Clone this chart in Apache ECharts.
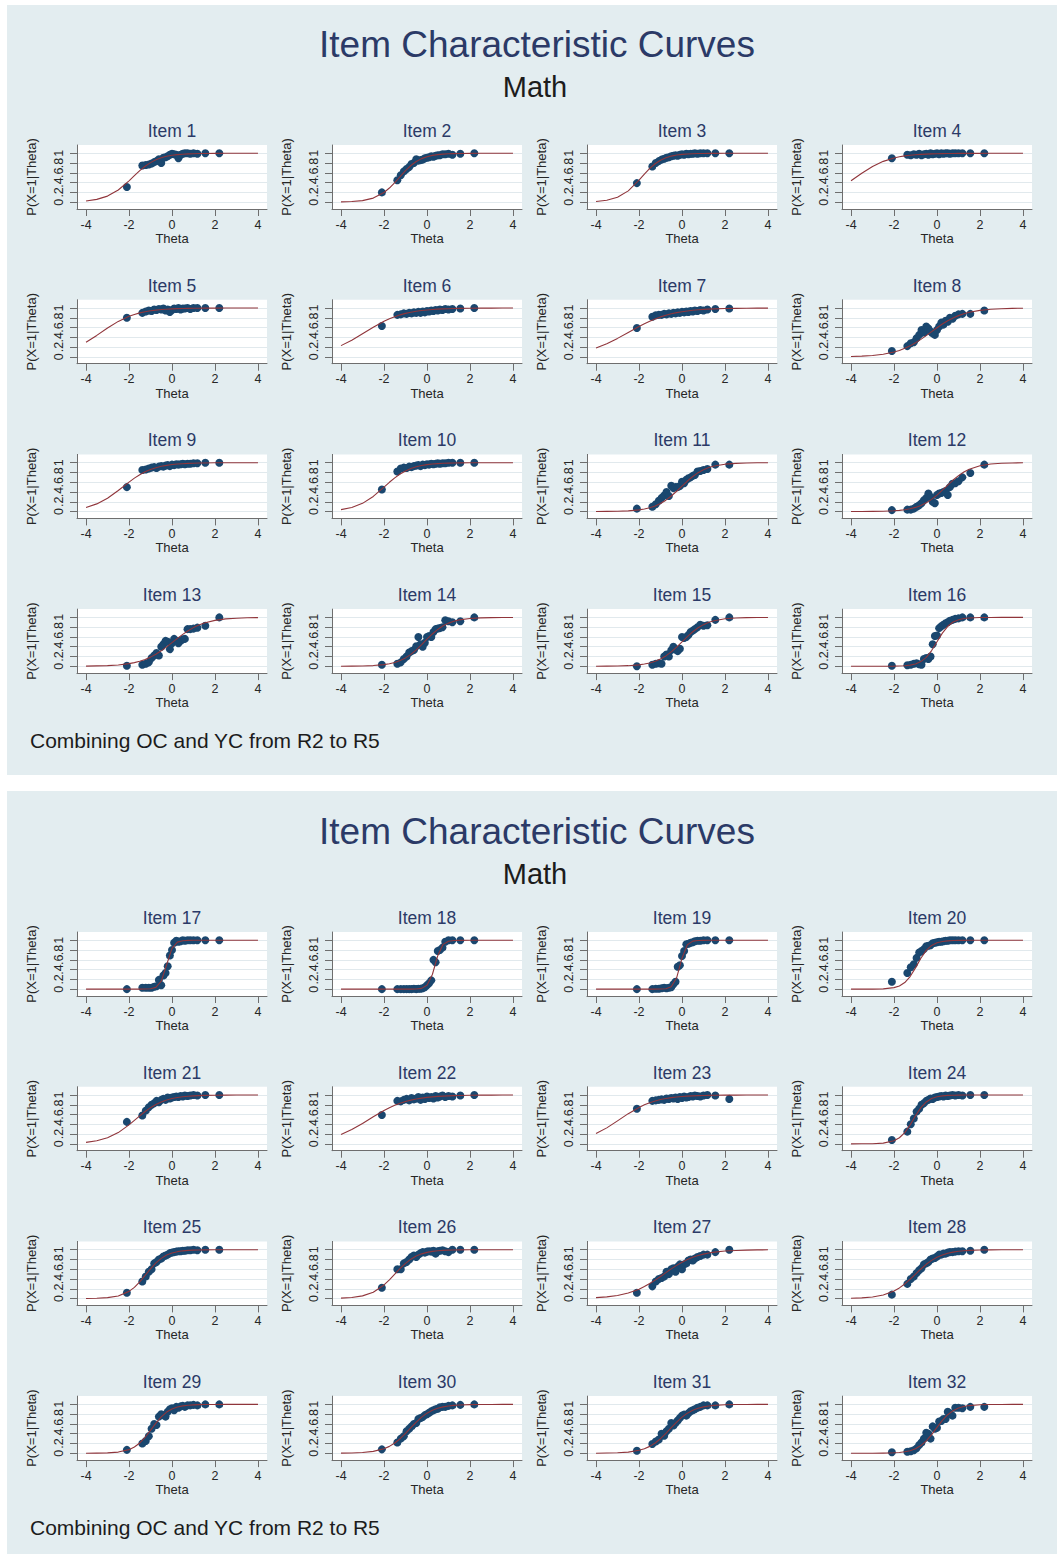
<!DOCTYPE html>
<html>
<head>
<meta charset="utf-8">
<title>Item Characteristic Curves - Math</title>
<script src="https://cdn.jsdelivr.net/npm/echarts@6/dist/echarts.min.js"></script>
<style>
  html, body { margin: 0; padding: 0; background: #ffffff; }
  #chart { width: 1057px; height: 1554px; }
</style>
</head>
<body>
<div id="chart"></div>
<script>
// ---- data -------------------------------------------------------------
const PANEL_TITLE = 'Item Characteristic Curves';
const PANEL_SUBTITLE = 'Math';
const PANEL_NOTE = 'Combining OC and YC from R2 to R5';
const X_NAME = 'Theta';
const Y_NAME = 'P(X=1|Theta)';
const X_TICKS = [-4, -2, 0, 2, 4];
const Y_TICKS = [0, 0.2, 0.4, 0.6, 0.8, 1];
const Y_TICK_LABELS = ['0', '.2', '.4', '.6', '.8', '1'];

// ability levels of the observed score groups
const OBS_THETA = [-2.1, -1.38, -1.22, -1.08, -0.95, -0.83, -0.72, -0.61, -0.5, -0.4, -0.3, -0.2, -0.1,
  0.0, 0.1, 0.2, 0.3, 0.4, 0.5, 0.6, 0.72, 0.85, 1.0, 1.18, 1.55, 2.2];

// observed proportion correct per item (one row per item, same order as OBS_THETA)
const OBSERVED_P = [
  [0.31,0.75,0.76,0.77,0.79,0.82,0.84,0.88,0.80,0.91,0.92,0.94,0.97,0.99,0.98,0.97,0.90,0.97,0.99,1.0,1.0,0.99,1.0,0.99,1.0,1.0],
  [0.20,0.45,0.55,0.63,0.68,0.72,0.78,0.80,0.88,0.85,0.86,0.87,0.90,0.91,0.92,0.94,0.93,0.95,0.96,0.96,0.98,0.98,0.99,0.97,0.99,1.0],
  [0.39,0.73,0.80,0.84,0.87,0.89,0.91,0.92,0.94,0.95,0.96,0.95,0.97,0.98,0.97,0.99,0.98,0.99,0.99,1.0,0.99,1.0,1.0,1.0,1.0,1.0],
  [0.90,0.97,0.96,0.98,0.97,0.99,0.96,0.98,0.99,0.97,1.0,0.98,0.99,1.0,0.98,1.0,0.99,1.0,1.0,0.99,1.0,1.0,1.0,1.0,1.0,1.0],
  [0.80,0.90,0.93,0.95,0.94,0.97,0.96,0.98,0.97,0.99,0.95,0.97,0.92,0.96,0.99,0.98,1.0,0.97,0.99,0.99,1.0,0.98,1.0,1.0,1.0,1.0],
  [0.63,0.86,0.87,0.89,0.88,0.90,0.89,0.91,0.90,0.92,0.90,0.93,0.91,0.94,0.93,0.95,0.94,0.96,0.95,0.97,0.96,0.98,0.97,0.98,0.99,1.0],
  [0.59,0.82,0.85,0.86,0.86,0.88,0.87,0.89,0.88,0.90,0.89,0.91,0.90,0.92,0.91,0.93,0.92,0.94,0.93,0.95,0.94,0.96,0.95,0.97,0.98,0.99],
  [0.12,0.22,0.28,0.30,0.38,0.45,0.55,0.50,0.62,0.58,0.52,0.48,0.45,0.55,0.62,0.70,0.66,0.74,0.72,0.80,0.78,0.84,0.87,0.88,0.88,0.95],
  [0.50,0.85,0.86,0.88,0.90,0.91,0.89,0.92,0.93,0.92,0.94,0.95,0.93,0.96,0.95,0.97,0.96,0.97,0.98,0.97,0.98,0.98,0.99,0.99,1.0,1.0],
  [0.45,0.82,0.88,0.90,0.89,0.92,0.91,0.93,0.94,0.95,0.93,0.96,0.95,0.97,0.96,0.98,0.97,0.98,0.99,0.98,0.99,0.99,1.0,1.0,1.0,1.0],
  [0.06,0.10,0.15,0.22,0.28,0.33,0.40,0.32,0.53,0.48,0.50,0.50,0.52,0.61,0.58,0.65,0.68,0.70,0.73,0.75,0.82,0.83,0.85,0.87,0.96,0.96],
  [0.03,0.04,0.04,0.06,0.10,0.13,0.17,0.23,0.28,0.37,0.30,0.20,0.17,0.34,0.37,0.38,0.40,0.42,0.34,0.50,0.57,0.58,0.62,0.70,0.79,0.96],
  [0.01,0.03,0.05,0.08,0.17,0.22,0.27,0.22,0.40,0.45,0.52,0.50,0.35,0.47,0.56,0.52,0.47,0.52,0.55,0.56,0.76,0.76,0.77,0.79,0.83,1.0],
  [0.03,0.05,0.08,0.15,0.20,0.28,0.31,0.33,0.41,0.60,0.45,0.40,0.48,0.60,0.62,0.60,0.70,0.76,0.77,0.78,0.80,0.94,0.92,0.90,0.92,1.0],
  [0.00,0.03,0.05,0.06,0.05,0.20,0.24,0.20,0.33,0.40,0.34,0.31,0.36,0.60,0.58,0.60,0.64,0.70,0.73,0.76,0.80,0.85,0.83,0.84,0.95,1.0],
  [0.01,0.02,0.03,0.05,0.06,0.04,0.03,0.15,0.17,0.15,0.20,0.45,0.62,0.63,0.78,0.82,0.85,0.88,0.90,0.93,0.95,0.97,0.98,1.0,1.0,1.0],
  [0.00,0.03,0.03,0.03,0.03,0.05,0.06,0.19,0.08,0.28,0.33,0.47,0.69,0.80,0.95,0.99,0.97,0.98,1.0,0.99,1.0,1.0,1.0,1.0,1.0,1.0],
  [0.00,0.00,0.00,0.00,0.00,0.00,0.00,0.01,0.00,0.01,0.01,0.02,0.04,0.08,0.12,0.18,0.60,0.55,0.78,0.80,0.85,0.97,1.0,1.0,1.0,1.0],
  [0.00,0.00,0.01,0.01,0.02,0.03,0.02,0.03,0.04,0.10,0.15,0.46,0.49,0.68,0.78,0.92,0.93,0.95,0.96,0.98,0.99,0.99,1.0,1.0,1.0,1.0],
  [0.15,0.33,0.45,0.51,0.64,0.75,0.78,0.82,0.88,0.89,0.90,0.94,0.95,0.96,0.97,0.97,0.98,0.99,0.99,1.0,1.0,1.0,1.0,1.0,1.0,1.0],
  [0.45,0.58,0.68,0.75,0.80,0.83,0.88,0.85,0.90,0.92,0.90,0.95,0.93,0.95,0.96,0.97,0.96,0.98,0.97,0.99,0.98,0.99,1.0,0.99,1.0,1.0],
  [0.59,0.88,0.87,0.90,0.92,0.89,0.94,0.91,0.93,0.96,0.90,0.95,0.92,0.97,0.94,0.96,0.93,0.98,0.95,0.97,0.99,0.96,0.98,0.97,0.99,1.0],
  [0.72,0.88,0.89,0.90,0.91,0.90,0.93,0.92,0.94,0.93,0.95,0.92,0.96,0.94,0.97,0.95,0.96,0.98,0.97,0.99,0.98,0.97,0.99,1.0,0.99,0.92],
  [0.08,0.25,0.40,0.52,0.66,0.72,0.80,0.83,0.88,0.90,0.93,0.92,0.95,0.96,0.97,0.98,0.97,0.99,0.98,0.99,1.0,0.99,1.0,0.99,1.0,1.0],
  [0.12,0.35,0.45,0.55,0.60,0.72,0.75,0.80,0.82,0.86,0.88,0.90,0.93,0.94,0.95,0.96,0.97,0.97,0.98,0.98,0.99,0.99,1.0,0.99,1.0,1.0],
  [0.22,0.60,0.60,0.72,0.75,0.80,0.85,0.88,0.85,0.90,0.93,0.95,0.94,0.96,0.97,0.96,0.98,0.92,0.97,0.98,0.99,0.97,0.95,1.0,1.0,1.0],
  [0.12,0.25,0.35,0.40,0.42,0.45,0.55,0.50,0.60,0.62,0.55,0.65,0.70,0.60,0.70,0.72,0.78,0.80,0.78,0.82,0.85,0.87,0.90,0.90,0.95,1.0],
  [0.08,0.30,0.40,0.45,0.52,0.58,0.62,0.70,0.72,0.75,0.80,0.82,0.83,0.86,0.90,0.90,0.92,0.92,0.94,0.95,0.95,0.96,0.97,0.97,0.98,1.0],
  [0.07,0.20,0.25,0.35,0.50,0.60,0.58,0.75,0.80,0.78,0.75,0.85,0.90,0.92,0.88,0.95,0.93,0.96,0.97,0.95,0.98,0.98,0.99,0.98,1.0,1.0],
  [0.08,0.22,0.30,0.35,0.45,0.50,0.55,0.60,0.62,0.70,0.72,0.74,0.78,0.80,0.83,0.86,0.88,0.90,0.91,0.94,0.95,0.95,0.97,0.98,0.99,1.0],
  [0.05,0.19,0.24,0.28,0.40,0.36,0.45,0.50,0.62,0.57,0.62,0.67,0.72,0.77,0.79,0.77,0.82,0.86,0.88,0.90,0.93,0.95,0.98,0.98,0.98,1.0],
  [0.02,0.03,0.04,0.06,0.10,0.17,0.22,0.30,0.42,0.40,0.30,0.55,0.50,0.52,0.65,0.66,0.70,0.70,0.85,0.82,0.77,0.93,0.93,0.92,0.95,0.95]
];

// theta positions where each fitted curve is sampled
const CURVE_THETA = [-4, -3.5, -3, -2.5, -2, -1.75, -1.5, -1.25, -1, -0.75, -0.5, -0.25,
  0, 0.25, 0.5, 0.75, 1, 1.25, 1.5, 2, 2.5, 3, 3.5, 4];

// fitted item characteristic curve per item (same order as CURVE_THETA)
const FITTED_P = [
  [0.025,0.057,0.124,0.249,0.437,0.542,0.645,0.735,0.809,0.866,0.908,0.938,0.959,0.973,0.982,0.988,0.992,0.995,0.997,0.999,1,1,1,1],
  [0.005,0.012,0.032,0.083,0.198,0.289,0.401,0.525,0.646,0.750,0.832,0.891,0.931,0.957,0.973,0.984,0.990,0.994,0.996,0.999,1,1,1,1],
  [0.015,0.039,0.100,0.231,0.450,0.574,0.690,0.786,0.858,0.909,0.943,0.964,0.978,0.987,0.992,0.995,0.997,0.998,0.999,1,1,1,1,1],
  [0.438,0.593,0.731,0.835,0.905,0.928,0.947,0.960,0.971,0.978,0.984,0.988,0.991,0.994,0.995,0.997,0.998,0.998,0.999,0.999,1,1,1,1],
  [0.299,0.439,0.590,0.726,0.830,0.869,0.900,0.924,0.943,0.957,0.968,0.976,0.982,0.987,0.990,0.993,0.995,0.996,0.997,0.998,0.999,1,1,1],
  [0.230,0.341,0.473,0.608,0.729,0.780,0.823,0.860,0.890,0.914,0.933,0.949,0.960,0.970,0.977,0.982,0.986,0.990,0.992,0.995,0.997,0.998,0.999,0.999],
  [0.182,0.269,0.378,0.500,0.622,0.679,0.731,0.777,0.818,0.852,0.881,0.905,0.924,0.940,0.953,0.963,0.971,0.977,0.982,0.989,0.993,0.996,0.998,0.998],
  [0.008,0.015,0.029,0.054,0.099,0.132,0.174,0.225,0.287,0.358,0.435,0.516,0.596,0.672,0.739,0.797,0.844,0.882,0.912,0.952,0.974,0.986,0.993,0.996],
  [0.085,0.157,0.273,0.430,0.603,0.684,0.754,0.813,0.861,0.898,0.926,0.946,0.962,0.973,0.980,0.986,0.990,0.993,0.995,0.998,0.999,1,1,1],
  [0.039,0.083,0.168,0.310,0.500,0.599,0.690,0.769,0.832,0.881,0.917,0.943,0.961,0.973,0.982,0.988,0.992,0.995,0.996,0.998,0.999,1,1,1],
  [0.001,0.003,0.007,0.015,0.035,0.053,0.078,0.115,0.166,0.233,0.318,0.416,0.521,0.625,0.718,0.796,0.856,0.901,0.933,0.970,0.987,0.994,0.998,0.999],
  [0.001,0.001,0.003,0.007,0.017,0.025,0.038,0.057,0.085,0.124,0.178,0.249,0.336,0.437,0.542,0.645,0.735,0.809,0.866,0.938,0.973,0.988,0.995,0.998],
  [0.003,0.007,0.014,0.027,0.054,0.074,0.102,0.139,0.187,0.246,0.316,0.397,0.483,0.570,0.652,0.727,0.791,0.843,0.884,0.939,0.969,0.984,0.992,0.996],
  [0.001,0.002,0.006,0.014,0.033,0.051,0.077,0.116,0.171,0.244,0.336,0.443,0.555,0.661,0.754,0.828,0.883,0.922,0.949,0.979,0.991,0.996,0.999,0.999],
  [0.001,0.002,0.005,0.012,0.029,0.045,0.068,0.101,0.148,0.212,0.294,0.392,0.500,0.608,0.706,0.788,0.852,0.899,0.932,0.971,0.988,0.995,0.998,0.999],
  [0,0,0,0.001,0.002,0.005,0.011,0.023,0.047,0.095,0.182,0.321,0.500,0.679,0.818,0.905,0.953,0.977,0.989,0.998,0.999,1,1,1],
  [0,0,0,0,0,0,0,0.002,0.008,0.037,0.165,0.500,0.835,0.963,0.992,0.998,1,1,1,1,1,1,1,1],
  [0,0,0,0,0,0,0,0,0,0.001,0.003,0.016,0.078,0.300,0.686,0.917,0.982,0.997,0.999,1,1,1,1,1],
  [0,0,0,0,0,0,0,0,0.002,0.009,0.050,0.233,0.636,0.910,0.983,0.997,0.999,1,1,1,1,1,1,1],
  [0,0,0.001,0.006,0.031,0.066,0.135,0.258,0.436,0.633,0.793,0.895,0.950,0.977,0.989,0.995,0.998,0.999,1,1,1,1,1,1],
  [0.031,0.063,0.125,0.231,0.389,0.481,0.574,0.663,0.741,0.806,0.858,0.898,0.928,0.949,0.964,0.975,0.983,0.988,0.992,0.996,0.998,0.999,1,1],
  [0.193,0.293,0.418,0.555,0.684,0.740,0.789,0.831,0.866,0.895,0.918,0.937,0.951,0.962,0.971,0.978,0.983,0.987,0.990,0.994,0.997,0.998,0.999,0.999],
  [0.211,0.327,0.470,0.618,0.746,0.799,0.843,0.879,0.907,0.930,0.947,0.960,0.970,0.978,0.983,0.988,0.991,0.993,0.995,0.997,0.998,0.999,1,1],
  [0,0.001,0.003,0.015,0.063,0.125,0.231,0.389,0.574,0.741,0.858,0.928,0.964,0.983,0.992,0.996,0.998,0.999,1,1,1,1,1,1],
  [0.002,0.006,0.019,0.054,0.147,0.230,0.341,0.473,0.608,0.729,0.823,0.890,0.933,0.960,0.977,0.986,0.992,0.995,0.997,0.999,1,1,1,1],
  [0.009,0.022,0.055,0.130,0.279,0.383,0.500,0.617,0.721,0.806,0.870,0.915,0.945,0.965,0.978,0.986,0.991,0.995,0.997,0.999,1,1,1,1],
  [0.019,0.035,0.064,0.113,0.192,0.245,0.307,0.378,0.453,0.531,0.608,0.679,0.743,0.798,0.844,0.881,0.910,0.932,0.950,0.972,0.985,0.992,0.996,0.998],
  [0.006,0.014,0.032,0.072,0.154,0.218,0.299,0.395,0.500,0.605,0.701,0.782,0.846,0.893,0.928,0.951,0.968,0.979,0.986,0.994,0.997,0.999,1,1],
  [0.001,0.002,0.007,0.024,0.074,0.128,0.211,0.327,0.470,0.618,0.746,0.843,0.907,0.947,0.970,0.983,0.991,0.995,0.997,0.999,1,1,1,1],
  [0.002,0.006,0.015,0.038,0.093,0.141,0.209,0.298,0.406,0.524,0.639,0.740,0.821,0.880,0.922,0.950,0.968,0.980,0.988,0.995,0.998,0.999,1,1],
  [0.001,0.004,0.009,0.024,0.060,0.093,0.141,0.209,0.298,0.406,0.524,0.639,0.740,0.821,0.880,0.922,0.950,0.968,0.980,0.992,0.997,0.999,1,1],
  [0,0,0.001,0.003,0.009,0.017,0.030,0.053,0.093,0.157,0.254,0.382,0.530,0.673,0.789,0.872,0.926,0.958,0.976,0.993,0.998,0.999,1,1]
];

// ---- layout & style ---------------------------------------------------
const FONT = "'Liberation Sans', Arial, Helvetica, sans-serif";
const BG = '#e3edf0';
const TITLE_COLOR = '#2b3a67';
const MARKER_COLOR = '#1a476f';
const LINE_COLOR = '#90353b';
const AXIS_COLOR = '#6e6e6e';
const GRIDLINE_COLOR = '#e1e9ed';
const TEXT_COLOR = '#262626';

const PANEL_OFFSET = 787;
const CELL = { left0: 77, dx: 255, width: 190, top0: 145, dy: 154.7, height: 64 };

const grids = [], xAxes = [], yAxes = [], series = [], titles = [];

for (let p = 0; p < 2; p++) {
  const oy = p * PANEL_OFFSET;
  titles.push({
    text: PANEL_TITLE, left: 537, top: 44 + oy, textAlign: 'center', textVerticalAlign: 'middle', padding: 0,
    textStyle: { fontFamily: FONT, fontSize: 37, fontWeight: 'normal', color: TITLE_COLOR }
  });
  titles.push({
    text: PANEL_SUBTITLE, left: 535, top: 87 + oy, textAlign: 'center', textVerticalAlign: 'middle', padding: 0,
    textStyle: { fontFamily: FONT, fontSize: 29, fontWeight: 'normal', color: '#1c1c1c' }
  });
  titles.push({
    text: PANEL_NOTE, left: 30, top: 740 + oy, textAlign: 'left', textVerticalAlign: 'middle', padding: 0,
    textStyle: { fontFamily: FONT, fontSize: 21, fontWeight: 'normal', color: '#1c1c1c' }
  });
}

OBSERVED_P.forEach((obs, i) => {
  const panel = Math.floor(i / 16);
  const k = i % 16;
  const row = Math.floor(k / 4), col = k % 4;
  const left = CELL.left0 + CELL.dx * col;
  const top = CELL.top0 + CELL.dy * row + PANEL_OFFSET * panel;

  grids.push({ left: left, top: top, width: CELL.width, height: CELL.height,
    show: true, backgroundColor: '#ffffff', borderWidth: 0 });

  titles.push({
    text: 'Item ' + (i + 1), left: left + CELL.width / 2, top: top - 14,
    textAlign: 'center', textVerticalAlign: 'middle', padding: 0,
    textStyle: { fontFamily: FONT, fontSize: 17.5, fontWeight: 'normal', color: TITLE_COLOR }
  });

  xAxes.push({
    gridIndex: i, type: 'value', min: -4.42, max: 4.42,
    name: X_NAME, nameLocation: 'middle', nameGap: 23,
    nameTextStyle: { fontFamily: FONT, fontSize: 13, color: TEXT_COLOR },
    axisLine: { show: true, onZero: false, lineStyle: { color: AXIS_COLOR, width: 1 } },
    axisTick: { show: true, length: 7, customValues: X_TICKS, lineStyle: { color: AXIS_COLOR, width: 1 } },
    axisLabel: { customValues: X_TICKS, margin: 9, fontFamily: FONT, fontSize: 12.5, color: TEXT_COLOR },
    splitLine: { show: false }
  });

  yAxes.push({
    gridIndex: i, type: 'value', min: -0.14, max: 1.17,
    name: Y_NAME, nameLocation: 'middle', nameGap: 39, nameRotate: 90,
    nameTextStyle: { fontFamily: FONT, fontSize: 13, color: TEXT_COLOR },
    axisLine: { show: true, onZero: false, lineStyle: { color: AXIS_COLOR, width: 1 } },
    axisTick: { show: true, length: 7, customValues: Y_TICKS, lineStyle: { color: AXIS_COLOR, width: 1 } },
    axisLabel: {
      customValues: Y_TICKS, rotate: 90, margin: 12, fontFamily: FONT, fontSize: 12.5, color: TEXT_COLOR,
      formatter: v => Y_TICK_LABELS[Y_TICKS.findIndex(t => Math.abs(t - v) < 1e-9)]
    },
    splitLine: { show: true, lineStyle: { color: GRIDLINE_COLOR, width: 1 } }
  });

  series.push({
    type: 'scatter', xAxisIndex: i, yAxisIndex: i,
    data: OBS_THETA.map((t, j) => [t, obs[j]]),
    symbol: 'circle', symbolSize: 8,
    itemStyle: { color: MARKER_COLOR, opacity: 1 },
    silent: true
  });
  series.push({
    type: 'line', xAxisIndex: i, yAxisIndex: i,
    data: CURVE_THETA.map((t, j) => [t, FITTED_P[i][j]]),
    smooth: false, showSymbol: false,
    lineStyle: { color: LINE_COLOR, width: 1.1, join: 'round' },
    silent: true
  });
});

const chart = echarts.init(document.getElementById('chart'), null, { renderer: 'svg', width: 1057, height: 1554 });
chart.setOption({
  animation: false,
  backgroundColor: '#ffffff',
  graphic: [
    { type: 'rect', z: -10, silent: true, shape: { x: 7, y: 5, width: 1050, height: 770 }, style: { fill: BG } },
    { type: 'rect', z: -10, silent: true, shape: { x: 7, y: 791, width: 1050, height: 770 }, style: { fill: BG } }
  ],
  title: titles,
  grid: grids,
  xAxis: xAxes,
  yAxis: yAxes,
  series: series
});
</script>
</body>
</html>
